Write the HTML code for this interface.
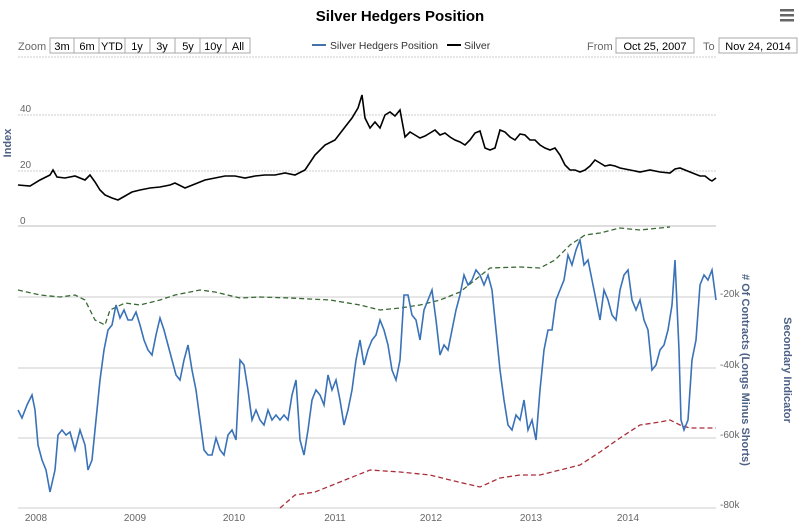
<!DOCTYPE html><html><head><style>body{margin:0;background:#fff}svg{font-family:"Liberation Sans",sans-serif}</style></head><body>
<svg width="800" height="527" viewBox="0 0 800 527">
<text x="400" y="21" text-anchor="middle" font-size="15" font-weight="bold" fill="#000">Silver Hedgers Position</text>
<g fill="#666"><rect x="780" y="9" width="14" height="2.5"/><rect x="780" y="14" width="14" height="2.5"/><rect x="780" y="19" width="14" height="2.5"/></g>
<text x="18" y="50" font-size="11" fill="#666">Zoom</text>
<g font-size="11" fill="#000" text-anchor="middle">
<rect x="50" y="38" width="200" height="15" fill="#fff" stroke="#aaa"/>
<g stroke="#aaa"><line x1="74" y1="38" x2="74" y2="53"/><line x1="99" y1="38" x2="99" y2="53"/><line x1="125" y1="38" x2="125" y2="53"/><line x1="150" y1="38" x2="150" y2="53"/><line x1="175" y1="38" x2="175" y2="53"/><line x1="200" y1="38" x2="200" y2="53"/><line x1="226" y1="38" x2="226" y2="53"/></g>
<text x="62" y="50">3m</text><text x="87" y="50">6m</text><text x="112" y="50">YTD</text><text x="137" y="50">1y</text><text x="162" y="50">3y</text><text x="188" y="50">5y</text><text x="213" y="50">10y</text><text x="238" y="50">All</text></g>
<line x1="312" y1="45" x2="326" y2="45" stroke="#4572a7" stroke-width="2"/><text x="330" y="49" font-size="10.5" fill="#333" textLength="108" lengthAdjust="spacingAndGlyphs">Silver Hedgers Position</text>
<line x1="447" y1="45" x2="461" y2="45" stroke="#000" stroke-width="2"/><text x="464" y="49" font-size="10.5" fill="#333">Silver</text>
<text x="587" y="50" font-size="11" fill="#666">From</text><rect x="616" y="38" width="78" height="15" fill="#fff" stroke="#aaa"/><text x="655" y="50" font-size="11" text-anchor="middle">Oct 25, 2007</text>
<text x="703" y="50" font-size="11" fill="#666">To</text><rect x="719" y="38" width="78" height="15" fill="#fff" stroke="#aaa"/><text x="758" y="50" font-size="11" text-anchor="middle">Nov 24, 2014</text>
<g stroke="#ccc" stroke-dasharray="2,1"><line x1="18" y1="57" x2="716" y2="57"/><line x1="18" y1="115" x2="716" y2="115"/><line x1="18" y1="171" x2="716" y2="171"/></g>
<line x1="18" y1="226" x2="716" y2="226" stroke="#bbb"/>
<g stroke="#ccc"><line x1="18" y1="297" x2="716" y2="297"/><line x1="18" y1="368" x2="716" y2="368"/><line x1="18" y1="438" x2="716" y2="438"/><line x1="18" y1="508" x2="716" y2="508"/></g>
<g font-size="10" fill="#666"><text x="20" y="112">40</text><text x="20" y="168">20</text><text x="20" y="224">0</text>
<text x="720" y="297">-20k</text><text x="720" y="368">-40k</text><text x="720" y="438">-60k</text><text x="720" y="508">-80k</text>
<text x="36" y="521" text-anchor="middle">2008</text><text x="135" y="521" text-anchor="middle">2009</text><text x="234" y="521" text-anchor="middle">2010</text><text x="335" y="521" text-anchor="middle">2011</text><text x="431" y="521" text-anchor="middle">2012</text><text x="531" y="521" text-anchor="middle">2013</text><text x="628" y="521" text-anchor="middle">2014</text></g>
<text transform="translate(11,143) rotate(-90)" font-size="11" font-weight="bold" fill="#4d6185" text-anchor="middle">Index</text>
<text transform="translate(742,370) rotate(90)" font-size="11" font-weight="bold" fill="#4d6185" text-anchor="middle"># Of Contracts (Longs Minus Shorts)</text>
<text transform="translate(784,370) rotate(90)" font-size="11" font-weight="bold" fill="#4d6185" text-anchor="middle">Secondary Indicator</text>
<polyline fill="none" stroke="#3a6a35" stroke-width="1.3" stroke-dasharray="5,3" points="18,290 40,295 60,297 75,295 85,300 95,320 105,325 110,310 125,303 140,305 160,300 175,295 200,290 215,292 240,298 260,297 290,298 330,300 360,305 380,310 400,308 420,305 440,300 460,292 475,280 490,268 520,267 540,268 555,260 570,245 585,235 600,233 620,228 640,230 660,228 670,227"/>
<polyline fill="none" stroke="#aa2f3b" stroke-width="1.3" stroke-dasharray="5,3" points="280,508 295,495 315,492 340,482 370,470 400,472 430,475 450,480 480,487 500,478 520,475 540,475 560,470 580,465 600,452 620,438 640,425 660,422 670,420 680,425 690,428 716,428"/>
<polyline fill="none" stroke="#000" stroke-width="1.6" points="18,185 30,186 40,180 50,175 53,170 57,177 65,178 75,176 85,180 90,175 95,182 100,190 105,195 112,198 118,200 125,196 132,192 140,190 150,188 160,187 170,185 175,183 185,188 195,184 205,180 215,178 225,176 235,176 245,178 255,176 265,175 275,175 285,173 295,175 305,170 315,155 325,145 335,140 345,127 352,118 358,108 362,95 365,118 370,128 375,122 380,128 385,115 390,112 395,116 400,110 405,137 410,132 415,135 420,138 425,136 430,133 435,130 440,135 445,133 450,137 455,140 460,142 465,145 470,140 475,133 480,131 485,148 490,150 495,148 500,130 505,132 510,137 515,140 520,134 525,135 530,140 535,140 540,145 545,148 550,150 555,148 560,155 565,165 570,170 575,170 580,172 585,170 590,166 595,160 600,163 605,166 610,165 615,166 620,168 630,170 640,172 650,170 660,172 670,173 675,169 680,168 690,172 700,176 705,176 710,180 712,181 716,178"/>
<polyline fill="none" stroke="#3a72b8" stroke-width="1.6" points="18,410 22,418 27,405 32,395 35,410 38,445 42,460 46,470 50,492 55,470 58,435 62,430 66,435 70,432 75,450 80,430 85,445 88,470 92,460 96,420 100,380 104,350 108,330 112,325 116,305 120,318 124,310 128,320 132,320 136,312 140,325 144,340 148,350 152,355 156,335 160,318 164,330 168,345 172,360 176,375 180,380 184,360 188,345 192,370 196,390 200,420 204,450 208,455 212,455 216,438 220,450 224,455 228,435 232,430 236,440 240,360 244,365 248,390 252,420 256,410 260,420 264,425 268,410 272,420 276,415 280,420 284,415 288,420 292,395 296,380 300,440 304,455 308,430 312,400 316,390 320,395 324,405 328,375 332,390 336,380 340,400 344,425 348,410 352,390 356,360 360,340 364,365 368,350 372,340 376,335 380,320 384,330 388,345 392,370 396,380 400,360 404,295 408,295 412,315 416,320 420,340 424,310 428,300 432,290 436,320 440,355 444,345 448,350 452,330 456,310 460,295 464,275 468,285 472,280 476,270 480,275 484,285 488,275 492,290 496,330 500,370 504,400 508,425 512,430 516,415 520,420 524,400 528,430 532,420 536,440 540,390 544,350 548,330 552,330 556,300 560,290 564,280 568,255 572,265 576,250 580,240 584,265 588,260 592,280 596,300 600,320 604,290 608,300 612,315 616,320 620,290 624,275 628,270 632,300 636,310 640,300 644,320 648,330 652,370 656,365 660,350 664,345 668,330 672,305 675,260 679,350 681,420 684,430 688,420 692,360 696,340 700,285 704,275 708,280 712,270 716,300"/>
</svg></body></html>
